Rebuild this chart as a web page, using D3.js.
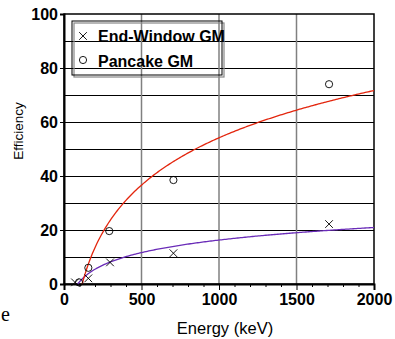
<!DOCTYPE html>
<html>
<head>
<meta charset="utf-8">
<title>Efficiency vs Energy</title>
<script src="https://cdn.jsdelivr.net/npm/d3@7/dist/d3.min.js"></script>
<style>
  body { margin: 0; background: #fff; }
  svg { display: block; }
</style>
</head>
<body>
<svg id="chart"></svg>
<script>
const endWindowEnergy = [71, 157, 297, 706, 1710];
const endWindowEff = [0.6, 2.1, 8.0, 11.4, 22.2];
const pancakeEnergy = [97, 157, 292, 706, 1710];
const pancakeEff = [0.6, 6.0, 19.6, 38.5, 74.0];
const xTicks = [0, 500, 1000, 1500, 2000];
const yTicks = [0, 20, 40, 60, 80, 100];
const legendNames = ["End-Window GM", "Pancake GM"];

const W = 395, H = 339;
const m = { left: 64, top: 14, right: 21, bottom: 55 };
const pw = W - m.left - m.right, ph = H - m.top - m.bottom;
const sans = "Liberation Sans, Arial, sans-serif";

const svg = d3.select("#chart").attr("width", W).attr("height", H);
const g = svg.append("g").attr("transform", `translate(${m.left},${m.top})`);

const x = d3.scaleLinear().domain([0, 2000]).range([0, pw]);
const y = d3.scaleLinear().domain([0, 100]).range([ph, 0]);

// gridlines
g.selectAll(".hg").data(d3.range(10, 100, 10)).enter().append("line")
  .attr("x1", 0).attr("x2", pw)
  .attr("y1", d => y(d) + 0.5).attr("y2", d => y(d) + 0.5)
  .attr("stroke", "#000").attr("stroke-width", 1);
g.selectAll(".vg").data(xTicks.slice(1, -1)).enter().append("line")
  .attr("x1", d => x(d)).attr("x2", d => x(d))
  .attr("y1", 0).attr("y2", ph)
  .attr("stroke", "#808080").attr("stroke-width", 1.5);

// frame
g.append("rect").attr("x", 0).attr("y", 0).attr("width", pw).attr("height", ph)
  .attr("fill", "none").attr("stroke", "#000").attr("stroke-width", 1.5);

// axes
const xAxis = g.append("g").attr("transform", `translate(0,${ph})`)
  .call(d3.axisBottom(x).tickValues(xTicks).tickSize(6).tickPadding(4).tickFormat(d3.format("d")));
g.append("g").attr("transform", `translate(0,${ph})`)
  .call(d3.axisBottom(x).tickValues(d3.range(100, 2000, 100).filter(d => d % 500)).tickSize(3).tickFormat(""))
  .call(a => a.select(".domain").remove());
const yAxis = g.append("g")
  .call(d3.axisLeft(y).tickValues(yTicks).tickSize(4).tickPadding(2));

[xAxis, yAxis].forEach(a => {
  a.select(".domain").attr("stroke-width", 2);
  a.selectAll("text").attr("font-family", sans)
    .attr("font-size", 16).attr("font-weight", "bold").attr("fill", "#000");
});

// logarithmic trend lines fitted to each series
function logFit(xs, ys) {
  const lx = xs.map(Math.log);
  const mx = d3.mean(lx), my = d3.mean(ys);
  const a = d3.sum(lx, (v, i) => (v - mx) * (ys[i] - my)) / d3.sum(lx, v => (v - mx) ** 2);
  const b = my - a * mx;
  return { a, b, start: Math.exp(-b / a) };
}
const line = d3.line().x(d => x(d[0])).y(d => y(d[1]));
function drawFit(xs, ys, color) {
  const f = logFit(xs, ys);
  const pts = d3.range(0, 201).map(i => {
    const e = f.start + (2000 - f.start) * i / 200;
    return [e, f.a * Math.log(e) + f.b];
  });
  g.append("path").datum(pts).attr("d", line)
    .attr("fill", "none").attr("stroke", color).attr("stroke-width", 1.3);
}
drawFit(endWindowEnergy, endWindowEff, "#6a2cb8");
drawFit(pancakeEnergy, pancakeEff, "#e3260e");

// markers
const cross = d3.symbol().type(d3.symbolX).size(40);
g.selectAll(".ew").data(endWindowEnergy).enter().append("path")
  .attr("d", cross)
  .attr("transform", (d, i) => `translate(${x(d)},${y(endWindowEff[i])})`)
  .attr("fill", "none").attr("stroke", "#000").attr("stroke-width", 0.9);
g.selectAll(".pc").data(pancakeEnergy).enter().append("circle")
  .attr("cx", d => x(d)).attr("cy", (d, i) => y(pancakeEff[i])).attr("r", 3.6)
  .attr("fill", "none").attr("stroke", "#000").attr("stroke-width", 0.9);

// legend
const lg = svg.append("g").attr("transform", "translate(72,21)");
lg.append("rect").attr("x", 2).attr("y", 2).attr("width", 150).attr("height", 54)
  .attr("fill", "none").attr("stroke", "#888").attr("stroke-width", 1.2);
lg.append("rect").attr("x", 0).attr("y", 0).attr("width", 150).attr("height", 54)
  .attr("fill", "none").attr("stroke", "#000").attr("stroke-width", 1);
lg.append("path").attr("d", cross).attr("transform", "translate(11,15)")
  .attr("fill", "none").attr("stroke", "#000").attr("stroke-width", 0.9);
lg.append("circle").attr("cx", 11).attr("cy", 39).attr("r", 3.6)
  .attr("fill", "none").attr("stroke", "#000").attr("stroke-width", 0.9);
lg.selectAll("text").data(legendNames).enter().append("text")
  .attr("x", 26).attr("y", (d, i) => 21 + i * 25)
  .attr("font-family", sans)
  .attr("font-size", 16).attr("font-weight", "bold")
  .text(d => d);

// axis titles
svg.append("text").attr("x", 225).attr("y", 334)
  .attr("text-anchor", "middle")
  .attr("font-family", sans).attr("font-size", 16.5)
  .text("Energy (keV)");
svg.append("text").attr("transform", "translate(23,131) rotate(-90)")
  .attr("text-anchor", "middle")
  .attr("font-family", sans).attr("font-size", 13.5)
  .text("Efficiency");

// stray glyph from the surrounding page
svg.append("text").attr("x", 1).attr("y", 321)
  .attr("font-family", "Liberation Serif, Times New Roman, serif").attr("font-size", 20)
  .text("e");
</script>
</body>
</html>
